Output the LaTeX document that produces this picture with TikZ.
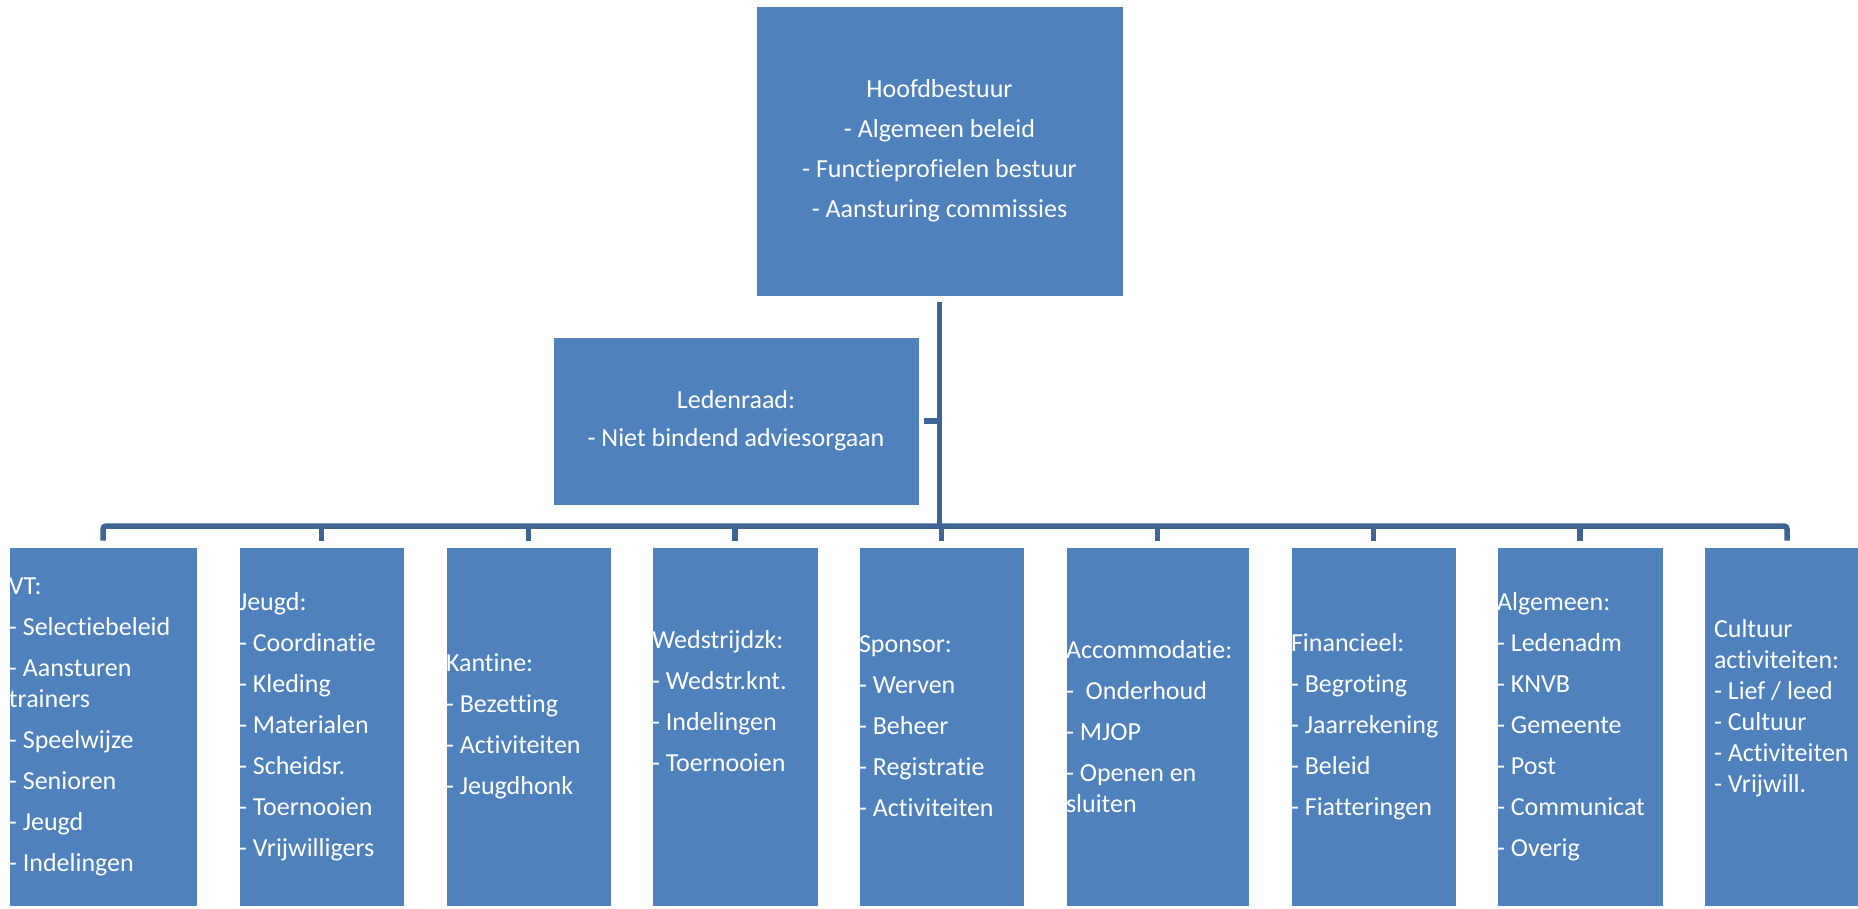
\documentclass[tikz,border=0pt]{standalone}
\usepackage{fontspec}
\setmainfont{Carlito}[Ligatures={NoCommon}]
\definecolor{boxblue}{RGB}{79,129,189}
\definecolor{lineblue}{RGB}{62,100,148}
\tikzset{
  board/.style={draw=white, line width=0.8pt, fill=boxblue, text=white, align=center,
    font=\fontsize{26}{31}\selectfont},
  unit/.style={draw=white, line width=0.8pt, fill=boxblue, text=white, align=flush left,
    inner xsep=0pt, inner ysep=0pt, minimum height=359pt, font=\fontsize{26}{31}\selectfont},
  link/.style={draw=lineblue, line width=5.5pt},
}
\begin{document}
\begin{tikzpicture}[x=1pt,y=-1pt]
  \useasboundingbox (0,0) rectangle (1858,908);
  \clip (0,0) rectangle (1858,908);
  % board and members' council
  \node[board, minimum width=367pt, minimum height=290pt] (hb) at (939.5,151)
    {Hoofdbestuur\\[9pt]- Algemeen beleid\\[9pt]- Functieprofielen bestuur\\[9pt]- Aansturing commissies};
  \node[board, minimum width=366pt, minimum height=168pt] (lr) at (736,421)
    {Ledenraad:\\[7pt]- Niet bindend adviesorgaan};
  % commissions along the bottom
  \node[unit, text width=188pt] (vt) at (103,726.5)
    {VT:\\[10pt]- Selectiebeleid\\[10pt]- Aansturen\\trainers\\[10pt]- Speelwijze\\[10pt]- Senioren\\[10pt]- Jeugd\\[10pt]- Indelingen};
  \node[unit, text width=165pt] (jg) at (321.5,726.5)
    {Jeugd:\\[10pt]- Coordinatie\\[10pt]- Kleding\\[10pt]- Materialen\\[10pt]- Scheidsr.\\[10pt]- Toernooien\\[10pt]- Vrijwilligers};
  \node[unit, text width=165pt] (ka) at (528.5,726.5)
    {Kantine:\\[10pt]- Bezetting\\[10pt]- Activiteiten\\[10pt]- Jeugdhonk};
  \node[unit, text width=166pt] (wz) at (735,726.5)
    {Wedstrijdzk:\\[10pt]- Wedstr.knt.\\[10pt]- Indelingen\\[10pt]- Toernooien\\[10pt]\strut};
  \node[unit, text width=165pt] (sp) at (941.5,726.5)
    {Sponsor:\\[10pt]- Werven\\[10pt]- Beheer\\[10pt]- Registratie\\[10pt]- Activiteiten};
  \node[unit, text width=183pt] (ac) at (1157.5,726.5)
    {Accommodatie:\\[10pt]- \ Onderhoud\\[10pt]- MJOP\\[10pt]- Openen en\\sluiten};
  \node[unit, text width=165pt] (fi) at (1373.5,726.5)
    {Financieel:\\[10pt]- Begroting\\[10pt]- Jaarrekening\\[10pt]- Beleid\\[10pt]- Fiatteringen};
  \node[unit, text width=166pt] (al) at (1580,726.5)
    {Algemeen:\\[10pt]- Ledenadm\\[10pt]- KNVB\\[10pt]- Gemeente\\[10pt]- Post\\[10pt]- Communicat\\[10pt]- Overig};
  \node[unit, text width=146pt, inner xsep=10pt] (cu) at (1787,726.5)
    {Cultuur\\activiteiten:\\- Lief / leed\\- Cultuur\\- Activiteiten\\- Vrijwill.\\\strut};
  % connectors
  \coordinate (bar) at (939.5,526);
  \draw[link] ([yshift=-6pt]hb.south) -- (bar);
  \draw[link] ([xshift=5pt]lr.east) -- (lr.east -| bar);
  \draw[link, rounded corners=3pt] ([yshift=6pt]vt.north) |- (bar) -| ([yshift=6pt]cu.north);
  \foreach \c in {jg,ka,wz,sp,ac,fi,al}
    \draw[link] ([yshift=6pt]\c.north) -- (\c.north |- bar);
\end{tikzpicture}
\end{document}
